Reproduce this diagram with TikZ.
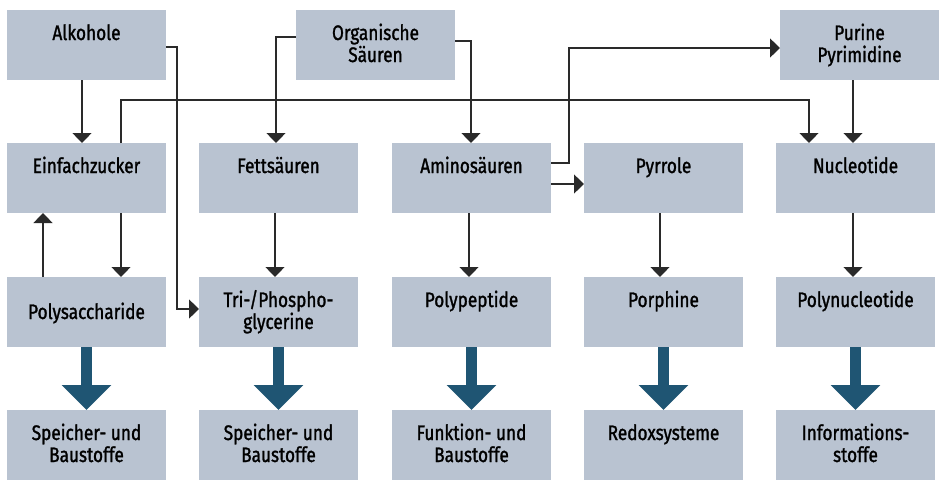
\documentclass[tikz,border=0pt]{standalone}
\usepackage{fontspec}
\setmainfont{Fira Sans}[FakeStretch=0.82,FakeBold=1.3]
\usetikzlibrary{arrows.meta,calc}
\definecolor{boxfill}{HTML}{B9C3D1}
\definecolor{bigarrow}{HTML}{1F5573}
\definecolor{lineclr}{HTML}{2A2A2A}
\tikzset{
  box/.style={rectangle,fill=boxfill,draw=none,minimum width=159pt,minimum height=70pt,inner sep=0pt,outer sep=0pt},
  lbl/.style={anchor=base,inner sep=0pt,align=center,font=\fontsize{21}{22}\selectfont,text=black},
  conn/.style={draw=lineclr,line width=1.3pt,-{Triangle[width=19pt,length=10pt]}},
  fat/.style={draw=bigarrow,line width=11pt,-{Triangle[width=48pt,length=25pt]}}
}
\begin{document}
\begin{tikzpicture}[x=1pt,y=-1pt]
\useasboundingbox (0,0) rectangle (940,480);
% boxes
\node[box] (alk) at (86.5,45) {};
\node[box] (org) at (375.5,45) {};
\node[box] (pur) at (859.5,45) {};
\node[box] (ein) at (86.5,178) {};
\node[box] (fett) at (278.5,178) {};
\node[box] (amino) at (471.5,178) {};
\node[box] (pyr) at (663.5,178) {};
\node[box] (nuc) at (855.5,178) {};
\node[box] (poly) at (86.5,312) {};
\node[box] (tri) at (278.5,312) {};
\node[box] (pep) at (471.5,312) {};
\node[box] (por) at (663.5,312) {};
\node[box] (pnuc) at (855.5,312) {};
\node[box] (sp1) at (86.5,445) {};
\node[box] (sp2) at (278.5,445) {};
\node[box] (fb) at (471.5,445) {};
\node[box] (redox) at (663.5,445) {};
\node[box] (info) at (855.5,445) {};
% labels (base anchor = baseline of last line)
\node[lbl] (alkT) at (86.5,40) {Alkohole};
\node[lbl] (orgT) at (375.5,62) {Organische\\Säuren};
\node[lbl] (purT) at (859.5,62) {Purine\\Pyrimidine};
\node[lbl] (einT) at (86.5,173) {Einfachzucker};
\node[lbl] (fettT) at (278.5,173) {Fettsäuren};
\node[lbl] (aminoT) at (471.5,173) {Aminosäuren};
\node[lbl] (pyrT) at (663.5,173) {Pyrrole};
\node[lbl] (nucT) at (855.5,173) {Nucleotide};
\node[lbl] (polyT) at (86.5,319) {Polysaccharide};
\node[lbl] (triT) at (278.5,329) {Tri-/Phospho-\\glycerine};
\node[lbl] (pepT) at (471.5,307) {Polypeptide};
\node[lbl] (porT) at (663.5,307) {Porphine};
\node[lbl] (pnucT) at (855.5,307) {Polynucleotide};
\node[lbl] (sp1T) at (86.5,462) {Speicher- und\\Baustoffe};
\node[lbl] (sp2T) at (278.5,462) {Speicher- und\\Baustoffe};
\node[lbl] (fbT) at (471.5,462) {Funktion- und\\Baustoffe};
\node[lbl] (redoxT) at (663.5,440) {Redoxsysteme};
\node[lbl] (infoT) at (855.5,462) {Informations-\\stoffe};
% thin connectors
\draw[conn] ([xshift=-4.5pt]alk.south) -- ([xshift=-4.5pt]ein.north);
\draw[conn] ([yshift=-2pt]alk.east) -- (177,47) |- ([yshift=3pt]tri.west);
\draw[conn] ([yshift=8pt]org.west) -| ([xshift=-2.5pt]fett.north);
\draw[conn] ([yshift=4pt]org.east) -| ([xshift=-0.5pt]amino.north);
\draw[conn] ([xshift=34.5pt]ein.north) -- (121,100) -| ([xshift=-46.5pt]nuc.north);
\draw[conn] ([xshift=-6.5pt]pur.south) -- ([xshift=-2.5pt]nuc.north);
\draw[conn] ([yshift=15pt]amino.east) -- (569,163) |- ([yshift=-3pt]pur.west);
\draw[conn] ([yshift=-6pt]amino.east) -- ([yshift=-6pt]pyr.west);
\draw[conn] ([xshift=34.5pt]ein.south) -- ([xshift=34.5pt]poly.north);
\draw[conn] ([xshift=-43.5pt]poly.north) -- ([xshift=-43.5pt]ein.south);
\draw[conn] ([xshift=-3.5pt]fett.south) -- ([xshift=-3.5pt]tri.north);
\draw[conn] ([xshift=-2.5pt]amino.south) -- ([xshift=-2.5pt]pep.north);
\draw[conn] ([xshift=-3.5pt]pyr.south) -- ([xshift=-3.5pt]por.north);
\draw[conn] ([xshift=-2.5pt]nuc.south) -- ([xshift=-2.5pt]pnuc.north);
% thick arrows
\draw[fat] (poly.south) -- (sp1.north);
\draw[fat] (tri.south) -- (sp2.north);
\draw[fat] (pep.south) -- (fb.north);
\draw[fat] (por.south) -- (redox.north);
\draw[fat] (pnuc.south) -- (info.north);
\end{tikzpicture}
\end{document}
